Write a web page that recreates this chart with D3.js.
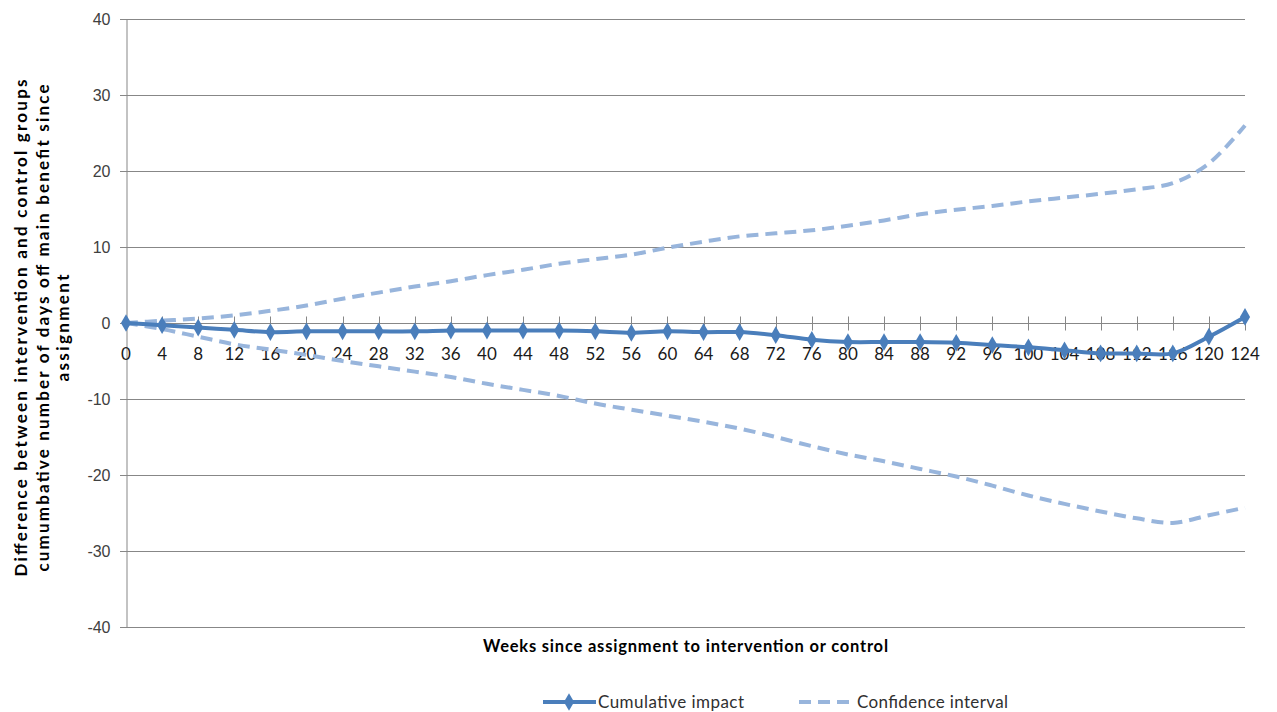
<!DOCTYPE html>
<html>
<head>
<meta charset="utf-8">
<script src="https://cdn.jsdelivr.net/npm/d3@7"></script>
<style>
  html, body { margin: 0; padding: 0; background: #fff; }
  svg { display: block; }
</style>
</head>
<body>
<svg id="chart" width="1277" height="712"></svg>
<script>
// Weeks since assignment (category axis)
const weeks = [0,4,8,12,16,20,24,28,32,36,40,44,48,52,56,60,64,68,72,76,80,84,88,92,96,100,104,108,112,116,120,124];

// Cumulative impact (difference in days off main benefit)
const impact = [0,-0.3,-0.6,-0.9,-1.2,-1.1,-1.1,-1.1,-1.1,-1.0,-1.0,-1.0,-1.0,-1.1,-1.3,-1.1,-1.2,-1.2,-1.6,-2.2,-2.5,-2.5,-2.5,-2.6,-2.9,-3.2,-3.6,-4.0,-4.0,-4.0,-1.8,0.8];

// Upper and lower confidence bounds
const ciUpper = [0,0.3,0.6,1.0,1.6,2.3,3.2,4.0,4.8,5.5,6.3,7.0,7.8,8.4,9.0,9.9,10.7,11.4,11.8,12.2,12.8,13.5,14.3,14.9,15.4,16.0,16.5,17.0,17.6,18.4,21.0,26.0];
const ciLower = [0,-0.8,-1.8,-2.8,-3.5,-4.2,-5.0,-5.7,-6.4,-7.1,-8.0,-8.8,-9.6,-10.6,-11.4,-12.2,-13.0,-13.9,-15.0,-16.2,-17.3,-18.2,-19.2,-20.2,-21.4,-22.7,-23.8,-24.8,-25.7,-26.3,-25.3,-24.3];

const yTicks = [-40,-30,-20,-10,0,10,20,30,40];

const yTitleLines = [
  "Difference between intervention and control groups",
  "cumumbative number of days off main benefit since",
  "assignment"
];
const xTitle = "Weeks since assignment to intervention or control";
const legendLabels = ["Cumulative impact", "Confidence interval"];

const svg = d3.select("#chart");
const margin = { left: 126, right: 32, top: 19, bottom: 85 };
const W = 1277, H = 712;
const bodyFont = "Lato, Carlito, Calibri, sans-serif";

const x = d3.scalePoint()
  .domain(weeks)
  .range([margin.left, W - margin.right]);

const y = d3.scaleLinear()
  .domain([-40, 40])
  .range([H - margin.bottom, margin.top]);

const gridColor = "#878787";
const mainColor = "#4a7ebb";
const ciColor = "#98b5dc";

// Horizontal gridlines
svg.append("g")
  .selectAll("line")
  .data(yTicks)
  .join("line")
  .attr("x1", margin.left - 6)
  .attr("x2", W - margin.right)
  .attr("y1", d => Math.round(y(d)) + 0.5)
  .attr("y2", d => Math.round(y(d)) + 0.5)
  .attr("stroke", gridColor)
  .attr("stroke-width", 1);

// Left axis
const yAxis = d3.axisLeft(y)
  .tickValues(yTicks)
  .tickSize(6)
  .tickPadding(10)
  .tickFormat(d => String(d));
const gy = svg.append("g")
  .attr("transform", `translate(${margin.left + 0.5},0)`)
  .call(yAxis);
gy.select(".domain").attr("stroke", gridColor);
gy.selectAll(".tick line").attr("stroke", gridColor);
gy.selectAll("text")
  .attr("font-family", "Liberation Sans, Arial, sans-serif")
  .attr("font-size", 16)
  .attr("fill", "#404040");

// Category axis across the zero line
const gx = svg.append("g")
  .attr("transform", `translate(0,${Math.round(y(0)) + 0.5})`);
gx.append("line")
  .attr("x1", margin.left).attr("x2", W - margin.right)
  .attr("stroke", gridColor);
gx.selectAll("line.tk")
  .data(weeks)
  .join("line")
  .attr("class", "tk")
  .attr("x1", d => Math.round(x(d)) + 0.5)
  .attr("x2", d => Math.round(x(d)) + 0.5)
  .attr("y1", -7).attr("y2", 7)
  .attr("stroke", gridColor);
gx.selectAll("text")
  .data(weeks)
  .join("text")
  .attr("x", d => x(d))
  .attr("y", 36)
  .attr("text-anchor", "middle")
  .attr("font-family", bodyFont)
  .attr("font-size", 17)
  .attr("fill", "#1a1a1a")
  .text(d => d);

const idx = d3.range(weeks.length);
const curve = d3.curveCatmullRom.alpha(0.5);

const lineOf = arr => d3.line()
  .x(i => x(weeks[i]))
  .y(i => y(arr[i]))
  .curve(curve)(idx);

// Confidence interval bounds
[ciUpper, ciLower].forEach(arr => {
  svg.append("path")
    .attr("d", lineOf(arr))
    .attr("fill", "none")
    .attr("stroke", ciColor)
    .attr("stroke-width", 4)
    .attr("stroke-dasharray", "12,7");
});

// Cumulative impact line
svg.append("path")
  .attr("d", lineOf(impact))
  .attr("fill", "none")
  .attr("stroke", mainColor)
  .attr("stroke-width", 4)
  .attr("stroke-linejoin", "round");

const diamond = d3.symbol().type(d3.symbolDiamond).size(90);
svg.append("g")
  .selectAll("path")
  .data(idx)
  .join("path")
  .attr("transform", i => `translate(${x(weeks[i])},${y(impact[i])})`)
  .attr("d", diamond)
  .attr("fill", mainColor);

// Axis titles (wide letter spacing, fitted to set lengths)
const yTitleX = [27, 49, 69];
const yTitleLen = [497, 487, 107];
yTitleLines.forEach((t, i) => {
  svg.append("text")
    .attr("transform", `translate(${yTitleX[i]},328) rotate(-90)`)
    .attr("text-anchor", "middle")
    .attr("font-family", bodyFont)
    .attr("font-weight", "bold")
    .attr("font-size", 17)
    .attr("textLength", yTitleLen[i])
    .attr("lengthAdjust", "spacing")
    .attr("fill", "#000")
    .text(t);
});

svg.append("text")
  .attr("x", 685.5)
  .attr("y", 652)
  .attr("text-anchor", "middle")
  .attr("font-family", bodyFont)
  .attr("font-weight", "bold")
  .attr("font-size", 16.5)
  .attr("textLength", 405)
  .attr("lengthAdjust", "spacing")
  .attr("fill", "#000")
  .text(xTitle);

// Legend
const leg = svg.append("g").attr("transform", "translate(0,702)");
leg.append("line")
  .attr("x1", 543).attr("x2", 596)
  .attr("stroke", mainColor).attr("stroke-width", 4);
leg.append("path")
  .attr("transform", "translate(569,0)")
  .attr("d", diamond)
  .attr("fill", mainColor);
leg.append("text")
  .attr("x", 598).attr("y", 6)
  .attr("font-family", bodyFont)
  .attr("font-size", 17)
  .attr("textLength", 146)
  .attr("lengthAdjust", "spacing")
  .attr("fill", "#303030")
  .text(legendLabels[0]);
leg.append("line")
  .attr("x1", 799).attr("x2", 852)
  .attr("stroke", ciColor).attr("stroke-width", 4)
  .attr("stroke-dasharray", "12,7");
leg.append("text")
  .attr("x", 857).attr("y", 6)
  .attr("font-family", bodyFont)
  .attr("font-size", 17)
  .attr("textLength", 151)
  .attr("lengthAdjust", "spacing")
  .attr("fill", "#303030")
  .text(legendLabels[1]);
</script>
</body>
</html>
